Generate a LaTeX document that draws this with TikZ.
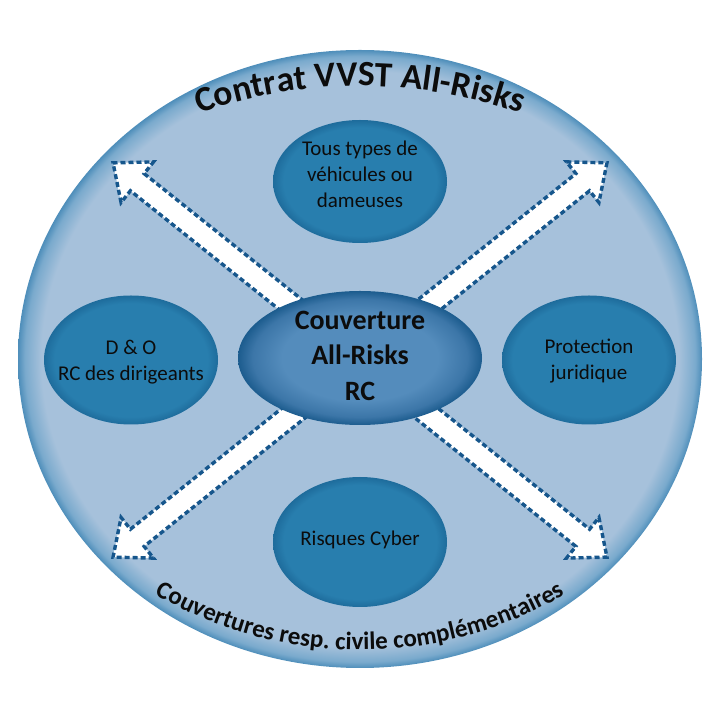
\documentclass[tikz,border=0pt]{standalone}
\usepackage{fontspec}
\setmainfont{Carlito}
\usetikzlibrary{shapes.geometric,decorations.text}
\definecolor{mainfill}{RGB}{166,193,219}
\definecolor{mainmid}{RGB}{122,170,205}
\definecolor{mainrim}{RGB}{78,142,186}
\definecolor{innerfill}{RGB}{40,126,174}
\definecolor{innerrim}{RGB}{30,108,156}
\definecolor{centlight}{RGB}{84,140,188}
\definecolor{centmid}{RGB}{60,118,168}
\definecolor{centrim}{RGB}{28,92,142}
\definecolor{arrowblue}{RGB}{22,86,140}
\definecolor{txt}{RGB}{12,12,12}
\pgfdeclareradialshading{mainshade}{\pgfpoint{0bp}{0bp}}{color(0bp)=(mainfill); color(23.3bp)=(mainfill); color(24.5bp)=(mainmid); color(25bp)=(mainrim); color(50bp)=(mainrim)}
\pgfdeclareradialshading{innershade}{\pgfpoint{0bp}{0bp}}{color(0bp)=(innerfill); color(22bp)=(innerfill); color(25bp)=(innerrim); color(50bp)=(innerrim)}
\pgfdeclareradialshading{centshade}{\pgfpoint{0bp}{0bp}}{color(0bp)=(centlight); color(16bp)=(centlight); color(22bp)=(centmid); color(25bp)=(centrim); color(50bp)=(centrim)}
\tikzset{
  bubble/.style={ellipse, inner sep=0pt, shade, shading=innershade, minimum width=174pt},
  bubtext/.style={align=center, text=txt, font=\fontsize{21}{26}\selectfont},
  arrowbody/.style={fill=white, draw=arrowblue, line width=3.4pt, dash pattern=on 5pt off 3pt, line join=miter},
  bigarrow/.pic={
    \path[arrowbody] (0,-11) -- (285,-11) -- (285,-26) -- (316,0) -- (285,26) -- (285,11) -- (0,11) -- cycle;
  }
}
\begin{document}
\begin{tikzpicture}[x=1pt,y=1pt]
\useasboundingbox (0,0) rectangle (720,720);
% outer ellipse
\node[ellipse, inner sep=0pt, shade, shading=mainshade, minimum width=684pt, minimum height=618pt] (outer) at (360,361) {};
% arrows
\coordinate (hub) at (360,360);
\pic[rotate=38.6] at (hub) {bigarrow};
\pic[rotate=141.4] at (hub) {bigarrow};
\pic[rotate=218.6] at (hub) {bigarrow};
\pic[rotate=321.4] at (hub) {bigarrow};
% satellite ellipses
\node[bubble, minimum height=123pt] (top) at (360,538.5) {};
\node[bubble, minimum height=129pt] (left) at (131,360) {};
\node[bubble, minimum height=129pt] (right) at (589,360) {};
\node[bubble, minimum height=130pt] (bottom) at (360,178) {};
% centre ellipse
\node[ellipse, inner sep=0pt, shade, shading=centshade, minimum width=244pt, minimum height=134pt] (centre) at (360,362) {};
% texts
\node[bubtext] (toptext) at (360,546) {Tous types de\\véhicules ou\\dameuses};
\node[bubtext] (lefttext) at (131,358) {D \& O\\RC des dirigeants};
\node[bubtext] (righttext) at (589,359) {Protection\\juridique};
\node[bubtext] (bottomtext) at (360,180) {Risques Cyber};
\node[align=center, text=txt, font=\bfseries\fontsize{28}{35.5}\selectfont] (centretext) at (360,364.5) {Couverture\\All-Risks\\RC};
% curved titles
\path[decorate, decoration={text along path, text align=center,
  text={|\color{txt}\bfseries\fontsize{35.5}{35.5}\selectfont|Contrat VVST All-Risks}}]
  (360,150) ++(130:484) arc[start angle=130, end angle=50, radius=484];
\path[decorate, decoration={text along path, text align=center,
  text={|\color{txt}\bfseries\fontsize{25}{25}\selectfont|Couvertures resp. civile complémentaires}}]
  (360,474) ++(225:404) arc[start angle=225, end angle=315, radius=404];
\end{tikzpicture}
\end{document}
